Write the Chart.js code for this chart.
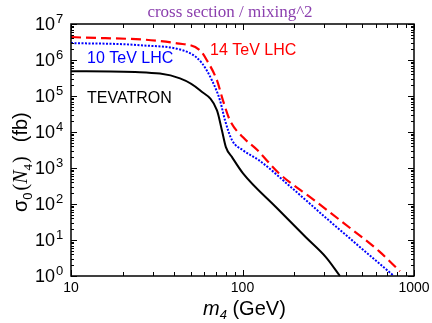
<!DOCTYPE html>
<html>
<head>
<meta charset="utf-8">
<script src="https://cdn.jsdelivr.net/npm/chart.js@4"></script>
<style>
  html, body { margin: 0; padding: 0; background: #fff; }
  #wrap { width: 432px; height: 323px; }
</style>
</head>
<body>
<div id="wrap"><canvas id="myChart" width="432" height="323"></canvas></div>
<script>
// values (mass in GeV, cross section in fb)
const tevMass = [10, 25.2, 43.2, 56.5, 71, 75.9, 80, 86.9, 100.7, 157, 234, 307, 370];
const tevSigma = [4.9e5, 4.6e5, 3.1e5, 1.44e5, 4e4, 1.1e4, 3.8e3, 2e3, 710, 81, 11.9, 3.3, 1];

const lhc10Mass = [10, 25.2, 49.4, 58.1, 66.4, 73.9, 79.1, 86.9, 100.7, 125, 197, 307, 478, 755];
const lhc10Sigma = [2.96e6, 2.57e6, 1.55e6, 8.1e5, 2.7e5, 7.6e4, 2.1e4, 5.9e3, 3.1e3, 1.63e3, 262, 41, 6.7, 1.05];

const lhc14Mass = [10, 41.5, 56.5, 62, 71, 76.9, 84.5, 100.7, 121.6, 163, 258, 391, 625, 828];
const lhc14Sigma = [4.35e6, 2.9e6, 1.86e6, 9.8e5, 2.7e5, 7.6e4, 2.1e4, 7.1e3, 3.2e3, 715, 135, 29, 4.9, 1.35];

const xTickLabels = ['10', '100', '1000'];
const yExponents = [0, 1, 2, 3, 4, 5, 6, 7];

const pts = (xs, ys) => xs.map((x, i) => ({ x: x, y: ys[i] }));

const SANS = '"Liberation Sans", Arial, sans-serif';
const SERIF = '"Liberation Serif", "Times New Roman", serif';

// frame, inward ticks and all the text
const decor = {
  id: 'decor',
  afterDraw(chart) {
    const ctx = chart.ctx;
    const a = chart.chartArea;
    const xs = chart.scales.x, ys = chart.scales.y;
    ctx.save();
    ctx.strokeStyle = '#000';
    ctx.lineWidth = 1.5;
    ctx.strokeRect(a.left, a.top, a.right - a.left, a.bottom - a.top);

    ctx.lineWidth = 1;
    ctx.beginPath();
    // y ticks, left and right
    for (let e = 0; e <= 7; e++) {
      for (let k = 1; k <= 9; k++) {
        if (e === 7 && k > 1) break;
        const v = k * Math.pow(10, e);
        const py = Math.round(ys.getPixelForValue(v)) + 0.5;
        const len = k === 1 ? 6 : 3;
        ctx.moveTo(a.left, py); ctx.lineTo(a.left + len, py);
        ctx.moveTo(a.right, py); ctx.lineTo(a.right - len, py);
      }
    }
    // x ticks, bottom and top
    for (let e = 1; e <= 3; e++) {
      for (let k = 1; k <= 9; k++) {
        if (e === 3 && k > 1) break;
        const v = k * Math.pow(10, e);
        const px = Math.round(xs.getPixelForValue(v)) + 0.5;
        const len = k === 1 ? 6 : 4;
        ctx.moveTo(px, a.bottom); ctx.lineTo(px, a.bottom - len);
        ctx.moveTo(px, a.top); ctx.lineTo(px, a.top + len);
      }
    }
    ctx.stroke();

    ctx.fillStyle = '#000';
    // y tick labels 10^n
    yExponents.forEach(e => {
      const py = ys.getPixelForValue(Math.pow(10, e));
      ctx.font = '18px ' + SANS;
      ctx.textAlign = 'right';
      ctx.textBaseline = 'middle';
      ctx.fillText('10', 55, py + 1);
      ctx.font = '13px ' + SANS;
      ctx.textAlign = 'left';
      ctx.textBaseline = 'alphabetic';
      ctx.fillText(String(e), 56, py - 1);
    });
    // x tick labels
    ctx.font = '14px ' + SANS;
    ctx.textAlign = 'center';
    ctx.textBaseline = 'top';
    xTickLabels.forEach(t => {
      ctx.fillText(t, xs.getPixelForValue(Number(t)), 281);
    });

    // x title: m4 (GeV)
    ctx.textAlign = 'left';
    ctx.textBaseline = 'alphabetic';
    let x = 203;
    ctx.font = 'italic 20px ' + SANS;
    ctx.fillText('m', x, 315); x += ctx.measureText('m').width;
    ctx.font = 'italic 13px ' + SANS;
    ctx.fillText('4', x, 319); x += ctx.measureText('4').width;
    ctx.font = '20px ' + SANS;
    ctx.fillText(' (GeV)', x, 315);

    // y title: sigma0 (N4)  (fb)
    ctx.save();
    ctx.translate(27, 212);
    ctx.rotate(-Math.PI / 2);
    let u = 0;
    ctx.font = '20px ' + SANS;
    ctx.fillText('\u03c3', u, 0); u += ctx.measureText('\u03c3').width;
    ctx.font = '13px ' + SANS;
    ctx.fillText('0', u, 5); u += ctx.measureText('0').width + 2;
    ctx.font = '20px ' + SERIF;
    ctx.fillText('(', u, 0); u += ctx.measureText('(').width;
    ctx.font = 'italic 20px ' + SERIF;
    ctx.fillText('N', u, 0); u += ctx.measureText('N').width;
    ctx.font = '13px ' + SERIF;
    ctx.fillText('4', u, 5); u += ctx.measureText('4').width + 1;
    ctx.font = '20px ' + SERIF;
    ctx.fillText(')', u, 0); u += ctx.measureText(')').width + 14;
    ctx.font = '20px ' + SANS;
    ctx.fillText('(fb)', u, 0);
    ctx.restore();

    // plot title
    ctx.font = '17px ' + SERIF;
    ctx.fillStyle = '#8B3FAE';
    ctx.textAlign = 'center';
    ctx.textBaseline = 'middle';
    ctx.fillText('cross section / mixing^2', 230, 13);

    // curve labels
    ctx.font = '16px ' + SANS;
    ctx.textAlign = 'left';
    ctx.fillStyle = '#0000FF';
    ctx.fillText('10 TeV LHC', 87, 59);
    ctx.fillStyle = '#FF0000';
    ctx.fillText('14 TeV LHC', 210, 51);
    ctx.fillStyle = '#000';
    ctx.fillText('TEVATRON', 87, 99);
    ctx.restore();
  }
};

const ctx = document.getElementById('myChart');

const myChart = new Chart(ctx, {
  type: 'line',
  data: {
    datasets: [
      {
        label: 'TEVATRON',
        data: pts(tevMass, tevSigma),
        borderColor: '#000000',
        borderWidth: 2,
        pointRadius: 0,
        cubicInterpolationMode: 'monotone',
      },
      {
        label: '10 TeV LHC',
        data: pts(lhc10Mass, lhc10Sigma),
        borderColor: '#0000FF',
        borderWidth: 2,
        borderDash: [2, 1.5],
        pointRadius: 0,
        cubicInterpolationMode: 'monotone',
      },
      {
        label: '14 TeV LHC',
        data: pts(lhc14Mass, lhc14Sigma),
        borderColor: '#FF0000',
        borderWidth: 2.2,
        borderDash: [10, 5],
        pointRadius: 0,
        cubicInterpolationMode: 'monotone',
      },
    ]
  },
  options: {
    responsive: false,
    animation: false,
    clip: false,
    layout: { padding: { left: 71, right: 18, top: 24, bottom: 47 } },
    plugins: {
      legend: { display: false },
      tooltip: { enabled: false },
    },
    scales: {
      x: { type: 'logarithmic', min: 10, max: 1000, display: false },
      y: { type: 'logarithmic', min: 1, max: 1e7, display: false },
    }
  },
  plugins: [decor]
});
</script>
</body>
</html>
